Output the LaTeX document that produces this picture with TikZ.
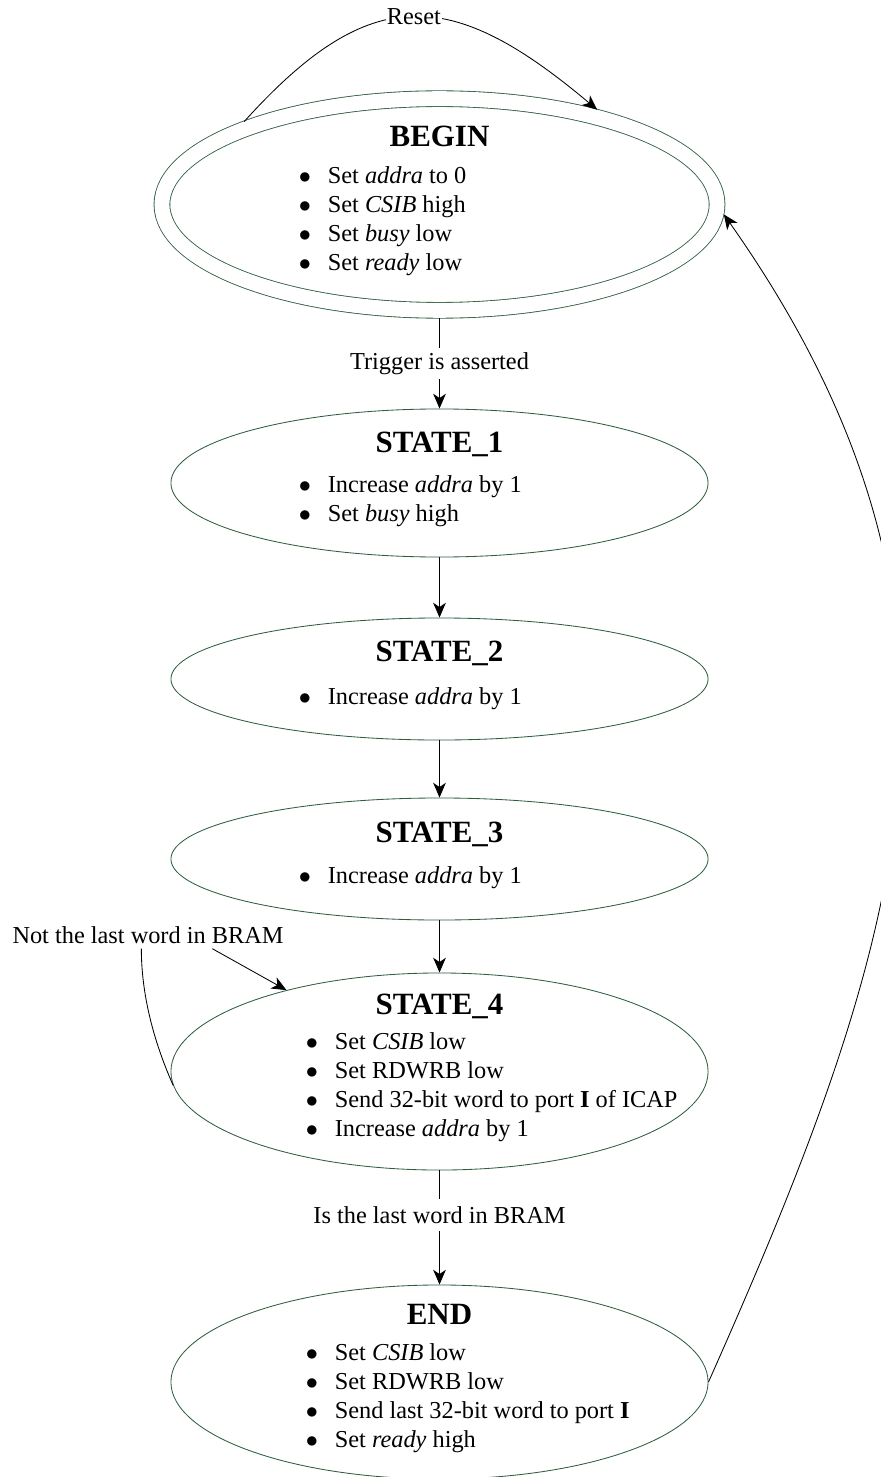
\documentclass[tikz,border=0pt]{standalone}
\usepackage{fontspec}
\setmainfont{Liberation Serif}
\usetikzlibrary{arrows.meta,shapes.geometric}

\definecolor{stateline}{HTML}{2E5E3E}
\newcommand{\headfont}{\fontsize{22}{26}\selectfont\bfseries}
\newcommand{\itm}[1]{\par\noindent\makebox[0pt][l]{\makebox[20.6pt][l]{$\bullet$}#1}}
\newcommand{\statetext}[3][5.5pt]{\setbox0\hbox{\parbox{200pt}{\centering{\headfont #2\par}\vspace{#1}\raggedright #3\par\vspace{-3.5pt}}}\ht0=0pt\dp0=0pt\box0}

\begin{document}
\begin{tikzpicture}[x=0.025cm,y=-0.025cm,line width=0.6pt,font=\fontsize{17.3}{20.6}\selectfont]
\tikzstyle{state}=[ellipse,draw=stateline,inner sep=0pt,minimum width=13.425cm]
\tikzstyle{lbl}=[fill=white,inner sep=3pt]
\tikzstyle{tr}=[->,>={Stealth[length=10.5pt,width=9pt,inset=3pt]}]
\useasboundingbox (0,0) rectangle (880,1477);

\node (1) at (439.5,204.5) [state,double,double distance=10.6pt,outer sep=5.6pt,minimum width=13.875cm,minimum height=5.29cm]{\statetext{BEGIN}{\itm{Set \textit{addra} to 0}\itm{Set \textit{CSIB} high}\itm{Set \textit{busy} low}\itm{Set \textit{ready} low}}};
\node (2) at (439.5,483) [state,minimum height=3.7cm]{\statetext[8.5pt]{STATE\_1}{\itm{Increase \textit{addra} by 1}\itm{Set \textit{busy} high}}};
\node (3) at (439.5,679) [state,minimum height=3.05cm]{\statetext[10.5pt]{STATE\_2}{\itm{Increase \textit{addra} by 1}}};
\node (4) at (439.5,859) [state,minimum height=3.05cm]{\statetext[9pt]{STATE\_3}{\itm{Increase \textit{addra} by 1}}};
\node (5) at (439.5,1071.5) [state,minimum height=4.925cm]{\statetext[4.5pt]{STATE\_4}{\leftskip=5pt \itm{Set \textit{CSIB} low}\itm{Set RDWRB low}\itm{Send 32-bit word to port \textbf{I} of ICAP}\itm{Increase \textit{addra} by 1}}};
\node (6) at (439.5,1382) [state,minimum height=4.85cm]{\statetext{END}{\leftskip=5pt \itm{Set \textit{CSIB} low}\itm{Set RDWRB low}\itm{Send last 32-bit word to port \textbf{I}}\itm{Set \textit{ready} high}}};

\node (7) at (148,935) {Not the last word in BRAM};

\draw[tr] (1.157) .. controls +(127,-141) and +(-145,-122) .. node[lbl,inner sep=1pt]{Reset} (1.31);
\draw[tr] (1) -- node[lbl]{Trigger is asserted} (2);
\draw[tr] (2) -- (3); \draw[tr] (3) -- (4); \draw[tr] (4) -- (5);
\draw (7.-116) .. controls +(0,45) and +(-20,-45) .. (5.183);
\draw[tr] (7.-12) -- (5.152);
\draw[tr] (5) -- node[lbl,pos=0.39,inner ysep=5pt]{Is the last word in BRAM} (6);
\draw[tr] (6.east) .. controls +(200,-450) and +(285,405) .. (1.-2);
\end{tikzpicture}
\end{document}
